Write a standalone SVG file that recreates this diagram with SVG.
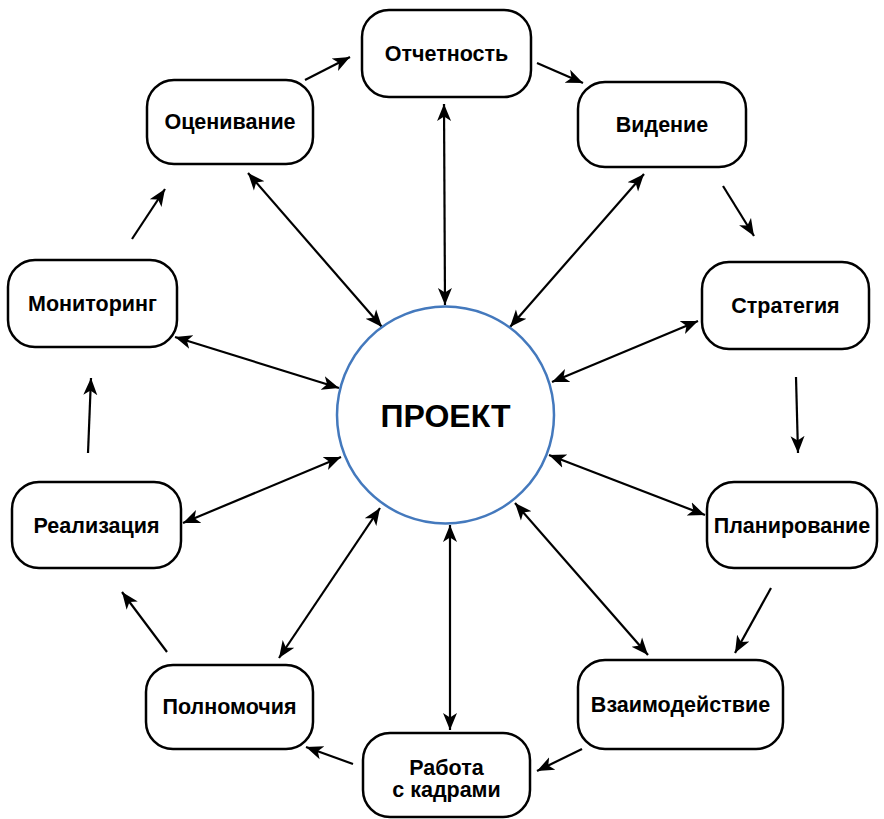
<svg xmlns="http://www.w3.org/2000/svg" width="884" height="819" viewBox="0 0 884 819">
  <style>
    .box { fill: #ffffff; stroke: #000000; stroke-width: 2.5; }
    .lbl { font-family: "Liberation Sans", Arial, Helvetica, sans-serif; font-weight: bold; font-size: 21.5px; fill: #000000; text-anchor: middle; }
    .big { font-size: 32px; }
    .link { stroke: #000000; stroke-width: 2.2; fill: none; }
    .one { marker-end: url(#head); }
    .two { marker-start: url(#head); marker-end: url(#head); }
  </style>
  <defs>
    <marker id="head" viewBox="0 0 18 16" refX="17" refY="8" markerWidth="18" markerHeight="16" markerUnits="userSpaceOnUse" orient="auto-start-reverse">
      <path d="M17,8 L0,1 L4.5,8 L0,15 Z" fill="#000000"/>
    </marker>
  </defs>
  <rect width="884" height="819" fill="#ffffff"/>

  <!-- connectors: spokes to the centre and the outer cycle -->
  <g id="connectors">
    <line class="link two" x1="444" y1="104" x2="445" y2="305"/>
    <line class="link two" x1="644" y1="174" x2="510" y2="327"/>
    <line class="link two" x1="698" y1="321" x2="552" y2="382"/>
    <line class="link two" x1="705" y1="515" x2="549" y2="455"/>
    <line class="link two" x1="648" y1="655" x2="515" y2="503"/>
    <line class="link two" x1="450" y1="730" x2="450" y2="525"/>
    <line class="link two" x1="279" y1="658" x2="380" y2="508"/>
    <line class="link two" x1="183" y1="523" x2="341" y2="457"/>
    <line class="link two" x1="175" y1="337" x2="339" y2="388"/>
    <line class="link two" x1="248" y1="173" x2="382" y2="327"/>

    <line class="link one" x1="305" y1="80" x2="350" y2="57"/>
    <line class="link one" x1="537" y1="63" x2="583" y2="83"/>
    <line class="link one" x1="723" y1="186" x2="754" y2="236"/>
    <line class="link one" x1="796" y1="377" x2="798" y2="453"/>
    <line class="link one" x1="771" y1="588" x2="735" y2="653"/>
    <line class="link one" x1="582" y1="749" x2="537" y2="771"/>
    <line class="link one" x1="353" y1="764" x2="306" y2="747"/>
    <line class="link one" x1="167" y1="652" x2="122" y2="592"/>
    <line class="link one" x1="88" y1="453" x2="91" y2="378"/>
    <line class="link one" x1="132" y1="239" x2="165" y2="189"/>
  </g>

  <g id="project">
    <circle cx="445.5" cy="415" r="108.5" fill="#ffffff" stroke="#4479bd" stroke-width="2.5"/>
    <text class="lbl big" x="445.5" y="426.5">ПРОЕКТ</text>
  </g>

  <g id="otchetnost">
    <rect class="box" x="362" y="10" width="169" height="87" rx="27"/>
    <text class="lbl" x="446.5" y="61">Отчетность</text>
  </g>
  <g id="videnie">
    <rect class="box" x="578" y="82" width="168" height="85" rx="27"/>
    <text class="lbl" x="662" y="132">Видение</text>
  </g>
  <g id="strategiya">
    <rect class="box" x="702" y="262" width="167" height="87" rx="27"/>
    <text class="lbl" x="785.5" y="313">Стратегия</text>
  </g>
  <g id="planirovanie">
    <rect class="box" x="707" y="482" width="170" height="86" rx="27"/>
    <text class="lbl" x="792" y="532.5">Планирование</text>
  </g>
  <g id="vzaimodeystvie">
    <rect class="box" x="578" y="660" width="205" height="89" rx="27"/>
    <text class="lbl" x="680.5" y="712">Взаимодействие</text>
  </g>
  <g id="rabota-s-kadrami">
    <rect class="box" x="363" y="733" width="167" height="84" rx="27"/>
    <text class="lbl" x="446.5" y="775">Работа</text>
    <text class="lbl" x="446.5" y="797">с кадрами</text>
  </g>
  <g id="polnomochiya">
    <rect class="box" x="146" y="665" width="167" height="84" rx="27"/>
    <text class="lbl" x="229.5" y="714">Полномочия</text>
  </g>
  <g id="realizatsiya">
    <rect class="box" x="12" y="482" width="169" height="86" rx="27"/>
    <text class="lbl" x="96.5" y="532.5">Реализация</text>
  </g>
  <g id="monitoring">
    <rect class="box" x="8" y="260" width="169" height="87" rx="27"/>
    <text class="lbl" x="92.5" y="311">Мониторинг</text>
  </g>
  <g id="otsenivanie">
    <rect class="box" x="147" y="80" width="166" height="84" rx="27"/>
    <text class="lbl" x="230" y="129">Оценивание</text>
  </g>
</svg>
